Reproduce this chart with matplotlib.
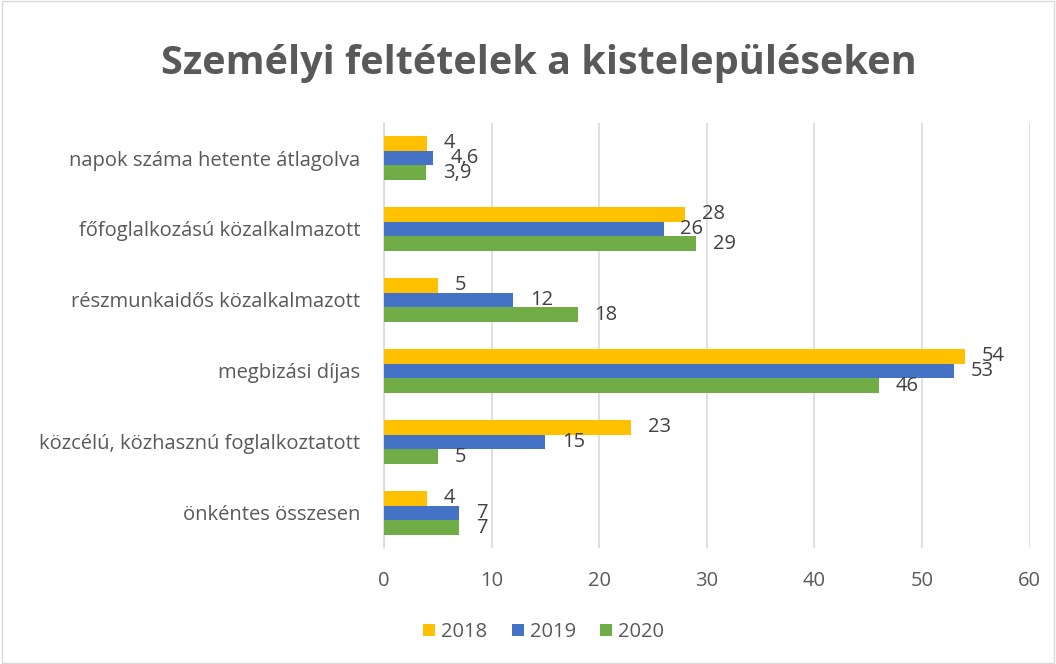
import matplotlib.pyplot as plt
import numpy as np

plt.rcParams['font.family'] = ['Open Sans', 'DejaVu Sans']

categories = ["napok száma hetente átlagolva", "főfoglalkozású közalkalmazott",
              "részmunkaidős közalkalmazott", "megbizási díjas",
              "közcélú, közhasznú foglalkoztatott", "önkéntes összesen"]
years = ["2018", "2019", "2020"]
v2018 = [4, 28, 5, 54, 23, 4]
v2019 = [4.6, 26, 12, 53, 15, 7]
v2020 = [3.9, 29, 18, 46, 5, 7]
colors = ["#FFC000", "#4472C4", "#70AD47"]

fig = plt.figure(figsize=(10.56, 6.64), dpi=100)
ax = fig.add_axes([0.3636, 0.174, 0.6114, 0.6415])

y = np.arange(len(categories))
h = 0.205
series = [v2018, v2019, v2020]
for k, (vals, col, yr) in enumerate(zip(series, colors, years)):
    pos = y + (k - 1) * h
    ax.barh(pos, vals, height=h, color=col, label=yr, zorder=3)
    for p, v in zip(pos, vals):
        txt = ("%g" % v).replace(".", ",")
        ax.annotate(txt, (v, p), xytext=(12, 0), textcoords="offset points",
                    va="center", ha="left", fontsize=14.5, color="#404040")

ax.set_ylim(len(categories) - 0.5, -0.5)
ax.set_xlim(0, 60)
ax.set_xticks(range(0, 61, 10))
ax.set_yticks(y)
ax.set_yticklabels(categories)
ax.tick_params(axis="y", length=0, pad=17, labelsize=14.5, labelcolor="#595959")
ax.tick_params(axis="x", length=0, pad=16, labelsize=14.5, labelcolor="#595959")
ax.grid(axis="x", color="#D9D9D9", linewidth=1.2, zorder=0)
for s in ["top", "right", "bottom"]:
    ax.spines[s].set_visible(False)
ax.spines["left"].set_color("#D9D9D9")
ax.spines["left"].set_linewidth(1.2)

fig.suptitle("Személyi feltételek a kistelepüléseken", x=0.51, y=0.933, fontsize=28.5,
             fontweight="bold", color="#595959")
fig.legend(loc="center", bbox_to_anchor=(0.515, 0.048), ncol=3, frameon=False,
           fontsize=14.5, labelcolor="#595959", handlelength=0.6, handleheight=0.6,
           columnspacing=1.2, handletextpad=0.3)

fig.patches.append(plt.Rectangle((0.002, 0.002), 0.996, 0.996, transform=fig.transFigure,
                                 fill=False, edgecolor="#D9D9D9", linewidth=1))
fig.savefig("out.png", dpi=100)
